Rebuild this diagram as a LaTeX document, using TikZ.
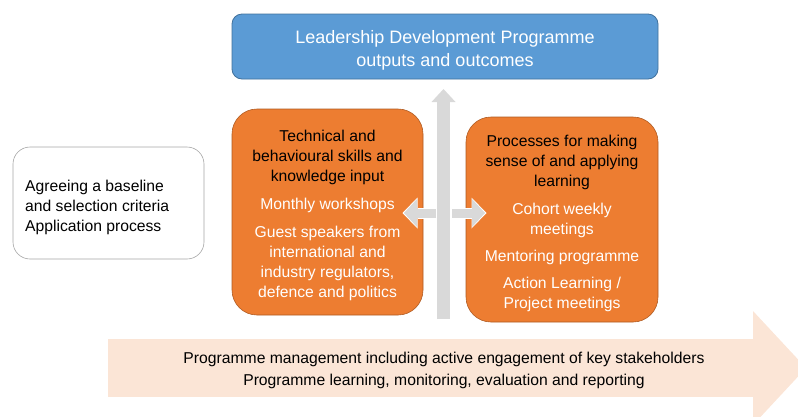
\documentclass[tikz,border=0pt]{standalone}
\usepackage{fontspec}
\setmainfont{Liberation Sans}
\usepackage{xcolor}
\usetikzlibrary{arrows.meta,positioning}

\definecolor{leadblue}{HTML}{5B9BD5}
\definecolor{leadblueline}{HTML}{41719C}
\definecolor{inputorange}{HTML}{ED7D31}
\definecolor{inputline}{HTML}{AE5A21}
\definecolor{flowgrey}{HTML}{D9D9D9}
\definecolor{mgmtpeach}{HTML}{FBE5D6}
\definecolor{startline}{HTML}{A6A6A6}

\newcommand{\hd}[1]{\textcolor{black}{#1}}

\begin{document}
\begin{tikzpicture}[x=1pt,y=-1pt,
                    outcome box/.style={draw=leadblueline,fill=leadblue,rounded corners=10pt,line width=0.8pt,
                      minimum width=426pt,minimum height=65pt},
                    outcome text/.style={text=white,align=center,font=\fontsize{18}{22.5}\selectfont},
                    input box/.style={draw=inputline,fill=inputorange,rounded corners=25pt,line width=0.6pt,
                      minimum width=191pt,minimum height=206pt},
                    input text/.style={text=white,align=center,font=\fontsize{15.7}{20}\selectfont},
                    start box/.style={draw=startline,fill=white,rounded corners=17pt,line width=0.6pt,
                      minimum width=191pt,minimum height=112pt},
                    start text/.style={anchor=west,inner sep=0pt,align=left,font=\fontsize{15.7}{20}\selectfont},
                    mgmt text/.style={align=center,font=\fontsize{15.7}{22}\selectfont},
                    main flow/.style={flowgrey,line width=13pt,-{Triangle[width=24pt,length=13pt,line width=0pt]}},
                    side flow/.style={flowgrey,line width=9pt,-{Triangle[width=28pt,length=13pt,line width=0pt]}},
                    side outline/.style={white,line width=11pt,shorten <=-1pt,shorten >=-1.5pt,
                      -{Triangle[width=31pt,length=15pt,line width=0pt]}},
                    mgmt flow/.style={mgmtpeach,line width=58pt,-{Triangle[width=114pt,length=53pt,line width=0pt]}}]

 \useasboundingbox (0,0) rectangle (798,416);

 \coordinate (mgmt start) at (108,368);
 \coordinate (mgmt end) at (806,368);
 \coordinate (up start) at (443.5,319);
 \coordinate (up end) at (443.5,89);
 \coordinate (left start) at (436,213);
 \coordinate (left end) at (404,213);
 \coordinate (right start) at (452,213);
 \coordinate (right end) at (485,213);

 \path
 (mgmt start) edge[mgmt flow] (mgmt end)
 (up start) edge[main flow] (up end);

 \node[mgmt text] (mgmt) at (444,370)
   {Programme management including active engagement of key stakeholders\\
    Programme learning, monitoring, evaluation and reporting};

 \node[outcome box] (outcomes) at (445,46.5) {};
 \node[outcome text] (outcomes text) at (445,50.5)
   {Leadership Development Programme\\ outputs and outcomes};

 \node[start box] (baseline) at (108.5,203) {};
 \node[start text] (baseline text) at (25,207)
   {Agreeing a baseline\\ and selection criteria\\ Application process};

 \node[input box] (skills) at (327.5,212) {};
 \node[input text] (skills text) at (327.5,215)
   {\hd{Technical and}\\ \hd{behavioural skills and}\\ \hd{knowledge input}\\[8pt]
    Monthly workshops\\[8pt]
    Guest speakers from\\ international and\\ industry regulators,\\ defence and politics};

 \node[input box,minimum width=192pt,minimum height=205pt] (sense) at (562,219.5) {};
 \node[input text] (sense text) at (562,223)
   {\hd{Processes for making}\\ \hd{sense of and applying}\\ \hd{learning}\\[8pt]
    Cohort weekly\\ meetings\\[7pt]
    Mentoring programme\\[7pt]
    Action Learning /\\ Project meetings};

 \path
 (left start) edge[side outline] (left end)
              edge[side flow] (left end)
 (right start) edge[side outline] (right end)
               edge[side flow] (right end);

\end{tikzpicture}
\end{document}
